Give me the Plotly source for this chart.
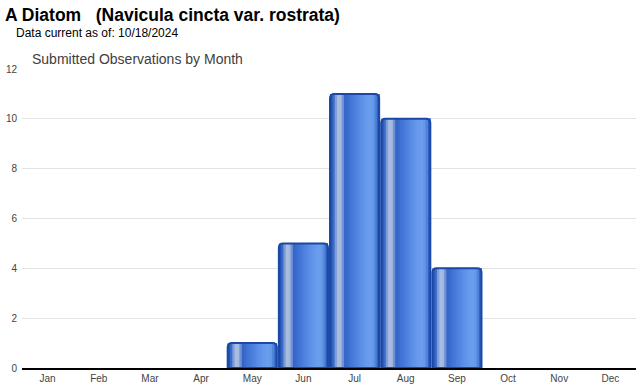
import plotly.graph_objects as go

months = ["Jan", "Feb", "Mar", "Apr", "May", "Jun", "Jul", "Aug", "Sep", "Oct", "Nov", "Dec"]
counts = [0, 0, 0, 0, 1, 5, 11, 10, 4, 0, 0, 0]

title_text = "A Diatom   (Navicula cincta var. rostrata)"
subtitle_text = "Data current as of: 10/18/2024"
chart_title = "Submitted Observations by Month"

# horizontal gradient stops across each bar (left -> right), style only
grad = ["#2453b5", "#3b6cc9", "#7f9fd6", "#a9bde0", "#a4b9df", "#6f92d6", "#3466c8",
        "#3a6ccd", "#4073d3", "#4678d8", "#4b7edd", "#5184e1", "#578ae4",
        "#5d90e7", "#6295ea", "#6699ec", "#6a9cee", "#6b9ded", "#6597e8",
        "#4f82da", "#2f5fc0"]

BAR_W = 0.96
n = len(grad)
sw = BAR_W / n

fig = go.Figure()
for i, c in enumerate(grad):
    fig.add_trace(go.Bar(
        x=months, y=counts,
        width=BAR_W - i * sw, offset=-BAR_W / 2 + i * sw,
        marker=dict(color=c, line=dict(width=0), cornerradius=0),
        hoverinfo="skip", showlegend=False,
    ))
fig.add_trace(go.Bar(
    x=months, y=[v if v > 0 else None for v in counts],
    width=BAR_W, offset=-BAR_W / 2,
    marker=dict(color="rgba(0,0,0,0)", line=dict(color="#1a48a4", width=2), cornerradius=4),
    showlegend=False,
))

fig.update_layout(
    width=640, height=390, autosize=False,
    barmode="overlay",
    paper_bgcolor="white", plot_bgcolor="white",
    margin=dict(l=22, r=4, t=69, b=22),
    font=dict(family="Liberation Sans, Arial, sans-serif", size=10, color="#444444"),
    xaxis=dict(
        categoryorder="array", categoryarray=months,
        showline=True, linecolor="#000000", linewidth=1.5,
        ticks="", showgrid=False, tickfont=dict(size=10, color="#444444"),
        range=[-0.5, 11.5], fixedrange=True,
    ),
    yaxis=dict(
        range=[0, 12], dtick=2, showgrid=True, gridcolor="#e3e3e3", gridwidth=1,
        zeroline=False, ticks="", tickfont=dict(size=10, color="#444444"),
        ticklabelstandoff=4, fixedrange=True, automargin=False,
    ),
    annotations=[
        dict(text="<b>" + title_text + "</b>", xref="paper", yref="paper",
             x=-19 / 614, y=1 + 54 / 299, xanchor="left", yanchor="middle",
             showarrow=False, font=dict(size=17.5, color="#000000", family="Liberation Sans, Arial, sans-serif")),
        dict(text=subtitle_text, xref="paper", yref="paper",
             x=-8 / 614, y=1 + 36 / 299, xanchor="left", yanchor="middle",
             showarrow=False, font=dict(size=12, color="#000000", family="Liberation Sans, Arial, sans-serif")),
        dict(text=chart_title, xref="paper", yref="paper",
             x=8 / 614, y=1 + 10 / 299, xanchor="left", yanchor="middle",
             showarrow=False, font=dict(size=14, color="#404040", family="Liberation Sans, Arial, sans-serif")),
    ],
)

fig.write_html("out.html", config={"displayModeBar": False},
               post_script="document.body.style.margin='0';")
